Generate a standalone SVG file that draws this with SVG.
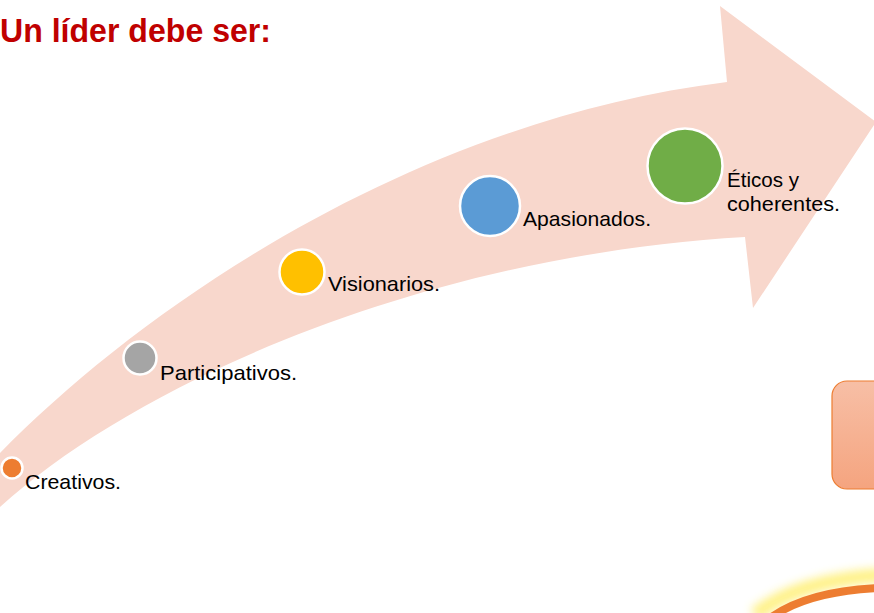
<svg xmlns="http://www.w3.org/2000/svg" width="874" height="613" viewBox="0 0 874 613">
<style>
.lbl{font-family:"Liberation Sans",Arial,sans-serif;font-size:21px;fill:#000}
.dot{stroke:#fff;stroke-width:2.5}
</style>
<defs>
<linearGradient id="boxg" x1="0" y1="0" x2="0" y2="1">
<stop offset="0" stop-color="#F7BFA6"/>
<stop offset="1" stop-color="#F5A47F"/>
</linearGradient>
<filter id="glow" x="-20%" y="-50%" width="140%" height="200%">
<feGaussianBlur stdDeviation="5"/>
</filter>
</defs>
<rect width="874" height="613" fill="#fff"/>
<g id="arrow">
<path d="M -25,528 L 0,507 C 140,380 430,255 745,237 L 753,308 L 876,122 L 720,6 L 727,82 C 420,120 150,300 0,453 L -25,476 Z" fill="#F8D7CC"/>
</g>
<g id="title">
<text x="0" y="42" font-family="'Liberation Sans',Arial,sans-serif" font-size="34" font-weight="bold" fill="#C00000" textLength="271" lengthAdjust="spacingAndGlyphs">Un líder debe ser:</text>
</g>
<g id="node-creativos">
<circle class="dot" cx="12" cy="468" r="10.5" fill="#ED7D31"/>
<text class="lbl" x="25" y="489" textLength="96" lengthAdjust="spacingAndGlyphs">Creativos.</text>
</g>
<g id="node-participativos">
<circle class="dot" cx="140" cy="358" r="16.5" fill="#A5A5A5"/>
<text class="lbl" x="160" y="380" textLength="137" lengthAdjust="spacingAndGlyphs">Participativos.</text>
</g>
<g id="node-visionarios">
<circle class="dot" cx="302" cy="272" r="22.5" fill="#FFC000"/>
<text class="lbl" x="328" y="291" textLength="112" lengthAdjust="spacingAndGlyphs">Visionarios.</text>
</g>
<g id="node-apasionados">
<circle class="dot" cx="490" cy="206" r="30" fill="#5B9BD5"/>
<text class="lbl" x="523" y="226" textLength="128" lengthAdjust="spacingAndGlyphs">Apasionados.</text>
</g>
<g id="node-eticos">
<circle class="dot" cx="685" cy="166" r="37.5" fill="#70AD47"/>
<text class="lbl" x="727" y="187" textLength="72" lengthAdjust="spacingAndGlyphs">Éticos y</text>
<text class="lbl" x="727" y="211" textLength="113" lengthAdjust="spacingAndGlyphs">coherentes.</text>
</g>
<g id="box">
<rect x="832" y="381" width="70" height="108" rx="15" ry="15" fill="url(#boxg)" stroke="#ED7D31" stroke-width="1.2"/>
</g>
<g id="arc">
<path d="M 755,615 C 785,590 830,578 885,575" fill="none" stroke="#FFF07A" stroke-width="14" filter="url(#glow)" opacity="0.9"/>
<path d="M 765,622 C 792,600 832,590 880,588" fill="none" stroke="#ED7D31" stroke-width="8"/>
</g>
<g id="connectors"></g>
</svg>
